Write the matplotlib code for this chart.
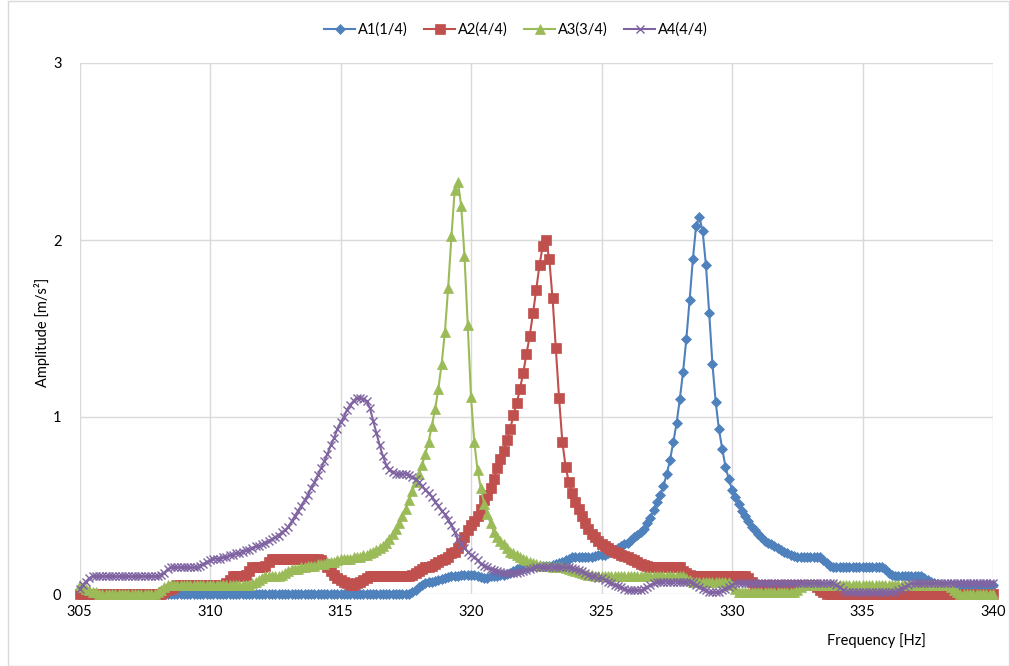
import numpy as np
import matplotlib
matplotlib.use("Agg")
import matplotlib.pyplot as plt
from matplotlib.patches import Rectangle

plt.rcParams['font.family'] = ['Lato', 'DejaVu Sans']

# Frequency grid: 305 .. 340 Hz, step 0.125 Hz (8 samples per Hz, one row per Hz below)
FREQ_START = 305.0
FREQ_STEP = 0.125

series_names = ["A1(1/4)", "A2(4/4)", "A3(3/4)", "A4(4/4)"]

a1 = [
    0, 0, 0, 0, 0, 0, 0, 0,                                  # 305
    0, 0, 0, 0, 0, 0, 0, 0,                                  # 306
    0, 0, 0, 0, 0, 0, 0, 0,                                  # 307
    0, 0, 0, 0, 0, 0, 0, 0,                                  # 308
    0, 0, 0, 0, 0, 0, 0, 0,                                  # 309
    0, 0, 0, 0, 0, 0, 0, 0,                                  # 310
    0, 0, 0, 0, 0, 0, 0, 0,                                  # 311
    0, 0, 0, 0, 0, 0, 0, 0,                                  # 312
    0, 0, 0, 0, 0, 0, 0, 0,                                  # 313
    0, 0, 0, 0, 0, 0, 0, 0,                                  # 314
    0, 0, 0, 0, 0, 0, 0, 0,                                  # 315
    0, 0, 0, 0, 0, 0, 0, 0,                                  # 316
    0, 0, 0, 0, 0, 0, 0.01, 0.02,                            # 317
    0.04, 0.05, 0.06, 0.065, 0.07, 0.075, 0.08, 0.085,       # 318
    0.09, 0.095, 0.1, 0.1, 0.1, 0.105, 0.11, 0.11,           # 319
    0.11, 0.105, 0.1, 0.095, 0.09, 0.09, 0.1, 0.1,           # 320
    0.1, 0.105, 0.11, 0.115, 0.12, 0.13, 0.14, 0.145,        # 321
    0.15, 0.155, 0.16, 0.16, 0.16, 0.16, 0.16, 0.16,         # 322
    0.16, 0.165, 0.17, 0.175, 0.18, 0.19, 0.2, 0.21,         # 323
    0.21, 0.21, 0.21, 0.21, 0.21, 0.21, 0.215, 0.22,         # 324
    0.22, 0.22, 0.23, 0.24, 0.25, 0.26, 0.27, 0.28,          # 325
    0.29, 0.305, 0.32, 0.335, 0.35, 0.37, 0.40, 0.43,        # 326
    0.475, 0.52, 0.56, 0.61, 0.678, 0.757, 0.857, 0.964,     # 327
    1.10, 1.256, 1.44, 1.66, 1.89, 2.08, 2.13, 2.05,         # 328
    1.86, 1.59, 1.30, 1.085, 0.93, 0.82, 0.72, 0.65,         # 329
    0.59, 0.55, 0.51, 0.47, 0.44, 0.41, 0.38, 0.36,          # 330
    0.34, 0.32, 0.30, 0.29, 0.28, 0.27, 0.26, 0.25,          # 331
    0.24, 0.23, 0.22, 0.215, 0.21, 0.21, 0.21, 0.21,         # 332
    0.21, 0.21, 0.21, 0.21, 0.19, 0.175, 0.16, 0.155,        # 333
    0.15, 0.15, 0.15, 0.15, 0.15, 0.15, 0.15, 0.15,          # 334
    0.15, 0.15, 0.15, 0.15, 0.15, 0.15, 0.15, 0.14,          # 335
    0.12, 0.11, 0.1, 0.1, 0.1, 0.1, 0.1, 0.1,                # 336
    0.1, 0.1, 0.1, 0.09, 0.08, 0.07, 0.06, 0.055,            # 337
    0.05, 0.05, 0.05, 0.05, 0.05, 0.05, 0.05, 0.05,          # 338
    0.05, 0.05, 0.05, 0.05, 0.05, 0.05, 0.05, 0.05,          # 339
    0.05,                                                    # 340
]

a2 = [
    0, 0, 0, 0, 0, 0, 0, 0,                                  # 305
    0, 0, 0, 0, 0, 0, 0, 0,                                  # 306
    0, 0, 0, 0, 0, 0, 0, 0,                                  # 307
    0, 0, 0.01, 0.02, 0.03, 0.04, 0.05, 0.05,                # 308
    0.05, 0.05, 0.05, 0.05, 0.05, 0.05, 0.05, 0.05,          # 309
    0.05, 0.05, 0.05, 0.05, 0.05, 0.06, 0.08, 0.1,           # 310
    0.1, 0.1, 0.1, 0.11, 0.13, 0.15, 0.15, 0.15,             # 311
    0.15, 0.16, 0.18, 0.2, 0.2, 0.2, 0.2, 0.2,               # 312
    0.2, 0.2, 0.2, 0.2, 0.2, 0.2, 0.2, 0.2,                  # 313
    0.2, 0.2, 0.19, 0.17, 0.15, 0.13, 0.11, 0.09,            # 314
    0.08, 0.07, 0.06, 0.05, 0.05, 0.06, 0.07, 0.08,          # 315
    0.09, 0.1, 0.1, 0.1, 0.1, 0.1, 0.1, 0.1,                 # 316
    0.1, 0.1, 0.1, 0.1, 0.1, 0.1, 0.11, 0.12,                # 317
    0.13, 0.14, 0.15, 0.15, 0.16, 0.17, 0.18, 0.19,          # 318
    0.2, 0.21, 0.23, 0.24, 0.26, 0.29, 0.32, 0.36,           # 319
    0.39, 0.41, 0.44, 0.48, 0.53, 0.56, 0.6, 0.65,           # 320
    0.71, 0.76, 0.81, 0.87, 0.93, 1.01, 1.077, 1.157,        # 321
    1.25, 1.356, 1.46, 1.586, 1.72, 1.86, 1.966, 2.0,        # 322
    1.89, 1.67, 1.39, 1.105, 0.86, 0.72, 0.63, 0.57,         # 323
    0.52, 0.48, 0.44, 0.40, 0.37, 0.34, 0.32, 0.30,          # 324
    0.28, 0.27, 0.26, 0.25, 0.24, 0.23, 0.22, 0.215,         # 325
    0.21, 0.2, 0.19, 0.18, 0.17, 0.165, 0.16, 0.155,         # 326
    0.15, 0.15, 0.15, 0.15, 0.15, 0.15, 0.15, 0.15,          # 327
    0.15, 0.13, 0.12, 0.11, 0.1, 0.1, 0.1, 0.1,              # 328
    0.1, 0.1, 0.1, 0.1, 0.1, 0.1, 0.1, 0.1,                  # 329
    0.1, 0.1, 0.1, 0.1, 0.1, 0.09, 0.07, 0.05,               # 330
    0.05, 0.05, 0.05, 0.05, 0.05, 0.05, 0.05, 0.05,          # 331
    0.05, 0.05, 0.05, 0.05, 0.05, 0.05, 0.05, 0.05,          # 332
    0.05, 0.05, 0.04, 0.02, 0.01, 0, 0, 0,                   # 333
    0, 0, 0, 0, 0, 0, 0, 0,                                  # 334
    0, 0, 0, 0, 0, 0, 0, 0,                                  # 335
    0, 0, 0, 0, 0, 0, 0, 0,                                  # 336
    0, 0, 0, 0, 0, 0, 0, 0,                                  # 337
    0, 0, 0, 0, 0, 0, 0, 0,                                  # 338
    0, 0, 0, 0, 0, 0, 0, 0,                                  # 339
    0,                                                       # 340
]

a3 = [
    0.05, 0.04, 0.03, 0.02, 0.01, 0.01, 0, 0,                # 305
    0, 0, 0, 0, 0, 0, 0, 0,                                  # 306
    0, 0, 0, 0, 0, 0, 0, 0,                                  # 307
    0.01, 0.02, 0.04, 0.05, 0.05, 0.05, 0.05, 0.05,          # 308
    0.05, 0.05, 0.05, 0.05, 0.05, 0.05, 0.05, 0.05,          # 309
    0.05, 0.05, 0.05, 0.05, 0.05, 0.05, 0.05, 0.05,          # 310
    0.05, 0.05, 0.05, 0.05, 0.05, 0.06, 0.07, 0.08,          # 311
    0.09, 0.1, 0.1, 0.1, 0.1, 0.1, 0.11, 0.12,               # 312
    0.13, 0.14, 0.14, 0.14, 0.15, 0.15, 0.16, 0.16,          # 313
    0.16, 0.17, 0.17, 0.17, 0.18, 0.18, 0.18, 0.19,          # 314
    0.2, 0.2, 0.2, 0.2, 0.21, 0.21, 0.21, 0.22,              # 315
    0.22, 0.23, 0.24, 0.25, 0.26, 0.27, 0.29, 0.31,          # 316
    0.34, 0.37, 0.40, 0.44, 0.48, 0.53, 0.58, 0.63,          # 317
    0.68, 0.73, 0.79, 0.86, 0.95, 1.045, 1.16, 1.30,         # 318
    1.48, 1.73, 2.02, 2.28, 2.33, 2.19, 1.91, 1.52,          # 319
    1.115, 0.86, 0.70, 0.60, 0.51, 0.45, 0.40, 0.35,         # 320
    0.32, 0.30, 0.28, 0.26, 0.24, 0.23, 0.22, 0.21,          # 321
    0.20, 0.19, 0.18, 0.175, 0.17, 0.165, 0.16, 0.16,        # 322
    0.16, 0.155, 0.155, 0.15, 0.15, 0.145, 0.14, 0.135,      # 323
    0.13, 0.125, 0.12, 0.115, 0.11, 0.105, 0.1, 0.1,         # 324
    0.1, 0.1, 0.1, 0.1, 0.1, 0.1, 0.1, 0.1,                  # 325
    0.1, 0.1, 0.1, 0.1, 0.1, 0.1, 0.1, 0.1,                  # 326
    0.1, 0.1, 0.1, 0.1, 0.1, 0.1, 0.1, 0.1,                  # 327
    0.1, 0.1, 0.09, 0.08, 0.07, 0.07, 0.07, 0.07,            # 328
    0.07, 0.07, 0.07, 0.07, 0.07, 0.07, 0.07, 0.07,          # 329
    0.05, 0.03, 0.01, 0.01, 0.01, 0.01, 0.01, 0.01,          # 330
    0.01, 0.01, 0.01, 0.01, 0.01, 0.01, 0.01, 0.01,          # 331
    0.01, 0.01, 0.01, 0.01, 0.02, 0.04, 0.05, 0.05,          # 332
    0.05, 0.05, 0.05, 0.05, 0.05, 0.05, 0.05, 0.05,          # 333
    0.05, 0.05, 0.05, 0.05, 0.05, 0.05, 0.05, 0.05,          # 334
    0.05, 0.05, 0.05, 0.05, 0.05, 0.05, 0.05, 0.05,          # 335
    0.05, 0.05, 0.05, 0.05, 0.05, 0.05, 0.05, 0.05,          # 336
    0.05, 0.05, 0.05, 0.05, 0.05, 0.05, 0.05, 0.05,          # 337
    0.05, 0.05, 0.05, 0.04, 0.02, 0.01, 0, 0,                # 338
    0, 0, 0, 0, 0, 0, 0, 0,                                  # 339
    0,                                                       # 340
]

a4 = [
    0.03, 0.05, 0.07, 0.09, 0.1, 0.1, 0.1, 0.1,              # 305
    0.1, 0.1, 0.1, 0.1, 0.1, 0.1, 0.1, 0.1,                  # 306
    0.1, 0.1, 0.1, 0.1, 0.1, 0.1, 0.1, 0.1,                  # 307
    0.1, 0.11, 0.12, 0.14, 0.15, 0.15, 0.15, 0.15,           # 308
    0.15, 0.15, 0.15, 0.15, 0.15, 0.16, 0.17, 0.18,          # 309
    0.19, 0.2, 0.2, 0.2, 0.21, 0.21, 0.22, 0.22,             # 310
    0.23, 0.23, 0.24, 0.25, 0.25, 0.26, 0.27, 0.27,          # 311
    0.28, 0.29, 0.3, 0.31, 0.32, 0.33, 0.35, 0.36,           # 312
    0.38, 0.41, 0.44, 0.47, 0.50, 0.53, 0.56, 0.60,          # 313
    0.63, 0.67, 0.71, 0.75, 0.79, 0.84, 0.88, 0.93,          # 314
    0.97, 1.0, 1.04, 1.07, 1.09, 1.11, 1.11, 1.10,           # 315
    1.09, 1.05, 0.98, 0.91, 0.84, 0.78, 0.73, 0.70,          # 316
    0.69, 0.68, 0.68, 0.68, 0.68, 0.67, 0.66, 0.65,          # 317
    0.63, 0.61, 0.59, 0.57, 0.55, 0.52, 0.5, 0.47,           # 318
    0.45, 0.42, 0.39, 0.35, 0.31, 0.28, 0.26, 0.24,          # 319
    0.22, 0.21, 0.19, 0.17, 0.16, 0.15, 0.14, 0.135,         # 320
    0.13, 0.125, 0.12, 0.12, 0.12, 0.12, 0.12, 0.125,        # 321
    0.13, 0.135, 0.14, 0.145, 0.15, 0.155, 0.155, 0.155,     # 322
    0.155, 0.155, 0.155, 0.155, 0.15, 0.15, 0.15, 0.145,     # 323
    0.14, 0.135, 0.13, 0.12, 0.11, 0.1, 0.1, 0.09,           # 324
    0.09, 0.08, 0.07, 0.06, 0.05, 0.045, 0.04, 0.03,         # 325
    0.02, 0.02, 0.02, 0.02, 0.02, 0.03, 0.04, 0.05,          # 326
    0.06, 0.065, 0.07, 0.07, 0.07, 0.07, 0.07, 0.07,         # 327
    0.07, 0.07, 0.07, 0.07, 0.06, 0.05, 0.04, 0.03,          # 328
    0.02, 0.01, 0.01, 0.01, 0.01, 0.02, 0.03, 0.04,          # 329
    0.05, 0.06, 0.06, 0.06, 0.06, 0.06, 0.06, 0.06,          # 330
    0.06, 0.06, 0.06, 0.06, 0.06, 0.06, 0.06, 0.06,          # 331
    0.06, 0.06, 0.06, 0.06, 0.06, 0.06, 0.06, 0.06,          # 332
    0.06, 0.06, 0.06, 0.06, 0.06, 0.06, 0.06, 0.06,          # 333
    0.05, 0.04, 0.02, 0.01, 0.01, 0.01, 0.01, 0.01,          # 334
    0.01, 0.01, 0.01, 0.01, 0.01, 0.01, 0.01, 0.01,          # 335
    0.01, 0.01, 0.01, 0.02, 0.03, 0.04, 0.05, 0.06,          # 336
    0.06, 0.06, 0.06, 0.06, 0.06, 0.06, 0.06, 0.06,          # 337
    0.06, 0.06, 0.06, 0.06, 0.06, 0.06, 0.06, 0.06,          # 338
    0.06, 0.06, 0.06, 0.06, 0.06, 0.06, 0.06, 0.06,          # 339
    0.06,                                                    # 340
]

x_ticks = [305, 310, 315, 320, 325, 330, 335, 340]
y_ticks = [0, 1, 2, 3]

freq = FREQ_START + FREQ_STEP * np.arange(len(a1))

W, H = 1010, 666
fig = plt.figure(figsize=(W / 100, H / 100), dpi=100)
ax = fig.add_axes([79.5 / W, 1 - 594 / H, (993 - 79.5) / W, (594 - 63) / H])

styles = [
    dict(color="#4F81BD", marker="D", markersize=5, mew=0.5),
    dict(color="#C0504D", marker="s", markersize=6.5, mew=0.5),
    dict(color="#9BBB59", marker="^", markersize=6.5, mew=0.5),
    dict(color="#8064A2", marker="x", markersize=5.5, mew=1.0),
]
data = [a1, a2, a3, a4]
handles = []
for name, vals, st in zip(series_names, data, styles):
    ln, = ax.plot(freq, vals, color=st["color"], lw=1.5, marker=st["marker"],
                  markersize=st["markersize"], markeredgewidth=st["mew"],
                  markerfacecolor=st["color"], markeredgecolor=st["color"],
                  clip_on=False, zorder=3, label=name)
    handles.append(ln)

ax.set_xlim(305, 340)
ax.set_ylim(0, 3)
ax.set_xticks(x_ticks)
ax.set_yticks(y_ticks)
ax.set_xticklabels([str(t) for t in x_ticks])
ax.set_yticklabels([str(t) for t in y_ticks])
ax.grid(True, color="#D9D9D9", lw=1)
ax.set_axisbelow(True)
for s in ax.spines.values():
    s.set_visible(False)
ax.tick_params(axis="both", length=0, labelsize=10.5, colors="#000000")
ax.tick_params(axis="x", pad=8)
ax.tick_params(axis="y", pad=13)

fig.text(876 / W, 1 - 641 / H, "Frequency [Hz]", ha="center", va="center", fontsize=10.5)
fig.text(42 / W, 1 - 332 / H, "Amplitude [m/s²]", ha="center", va="center",
         rotation=90, fontsize=10.5)

fig.legend(handles=handles, labels=series_names, loc="center",
           bbox_to_anchor=(516 / W, 1 - 30 / H), ncol=4, frameon=False,
           fontsize=10.5, handlelength=2.1, columnspacing=1.15, handletextpad=0.2)

fig.patches.append(Rectangle((8 / W, 0.5 / H), (W - 9) / W, (H - 1.5) / H,
                             transform=fig.transFigure, fill=False,
                             edgecolor="#D9D9D9", lw=1))

fig.savefig("out.png", dpi=100)
